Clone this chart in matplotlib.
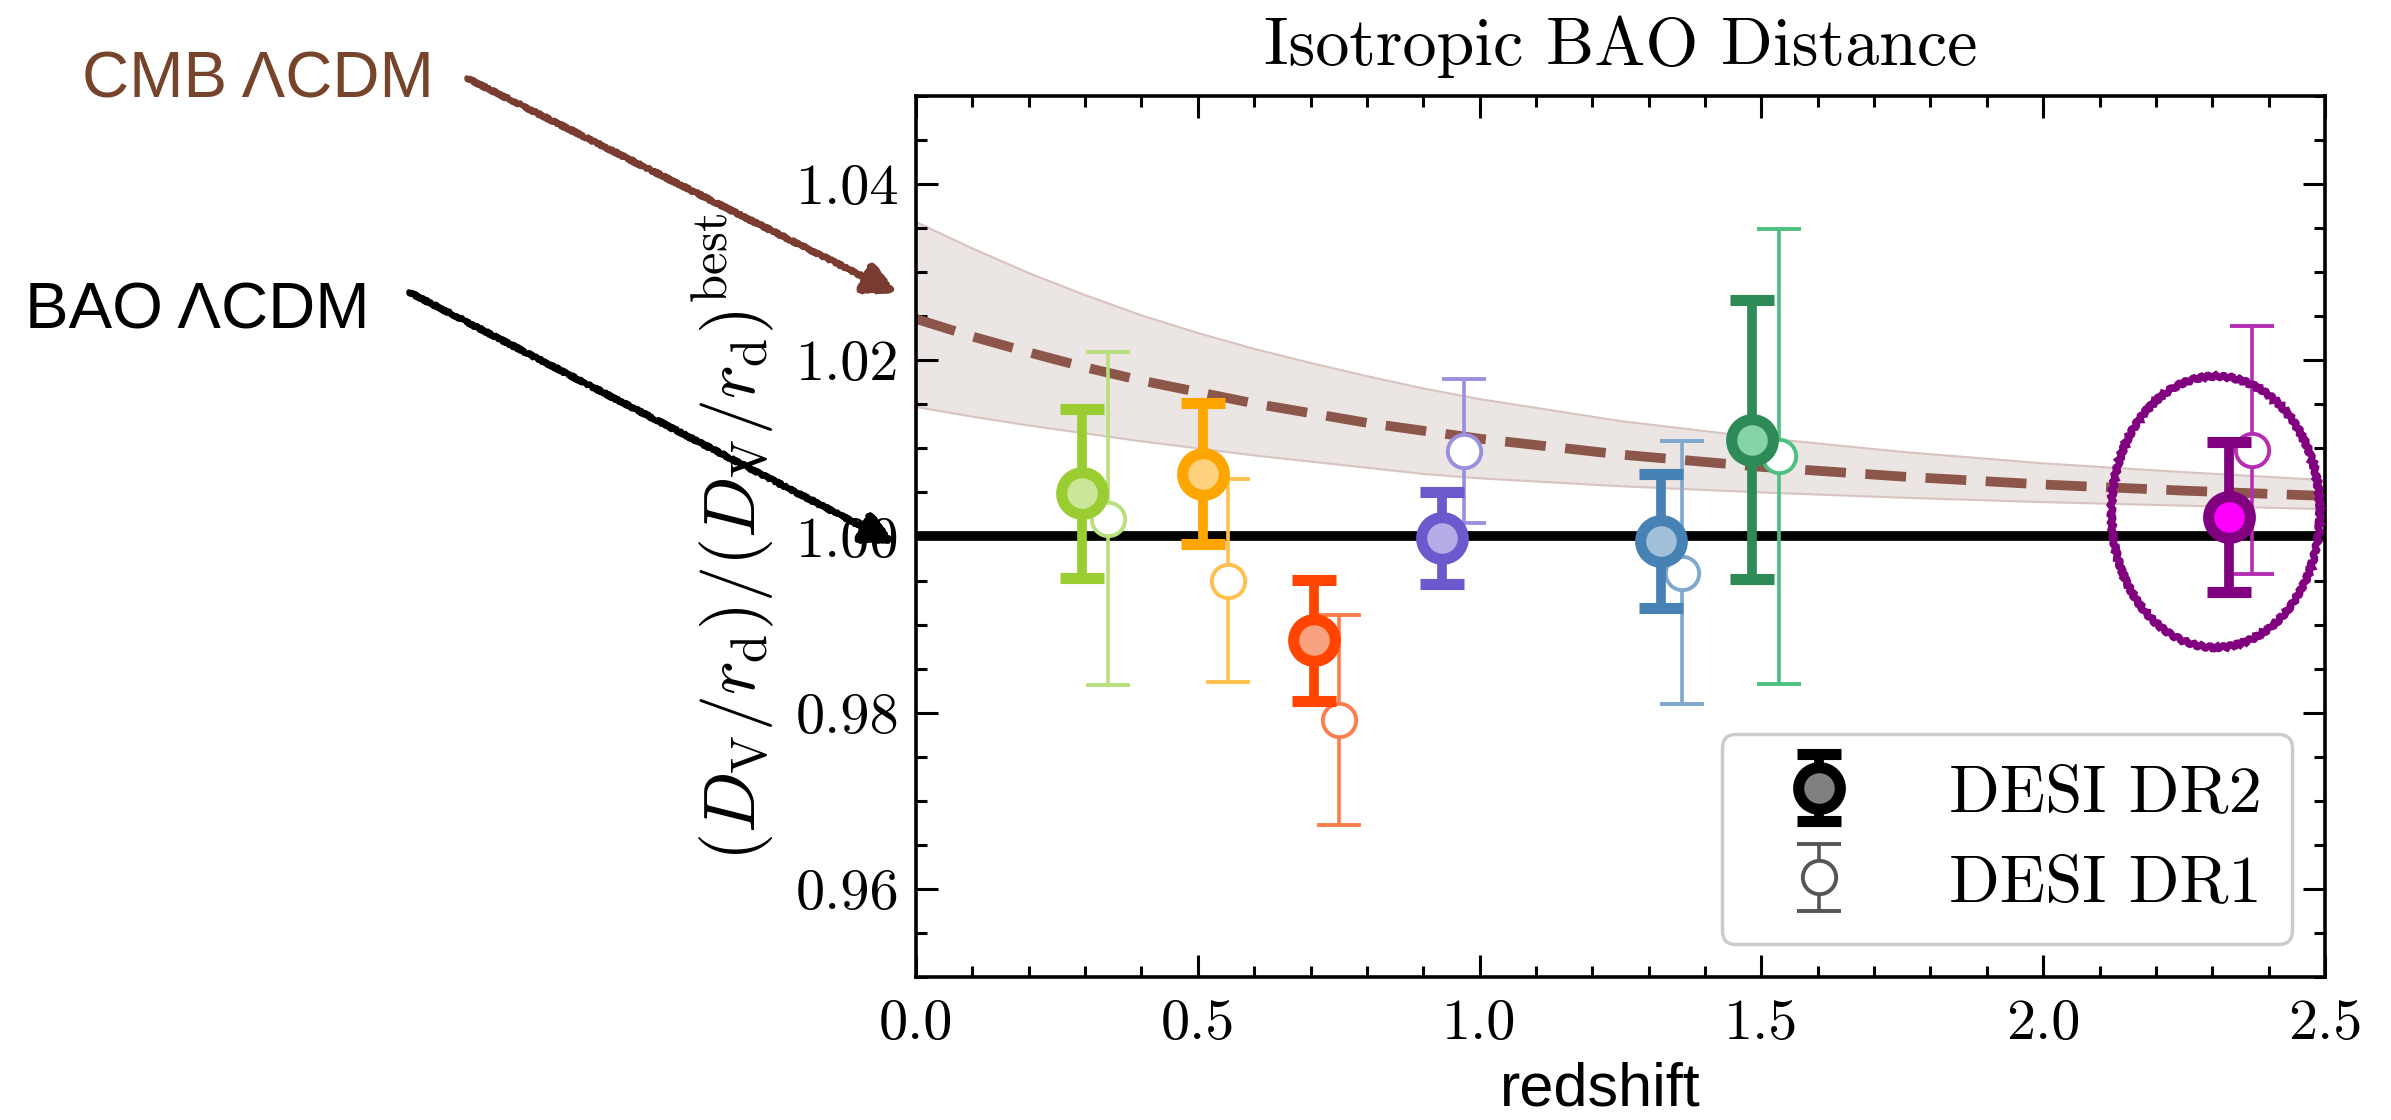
import numpy as np
import matplotlib
matplotlib.use("Agg")
import matplotlib.pyplot as plt
from matplotlib.patches import Ellipse
from matplotlib.ticker import MultipleLocator, FormatStrFormatter

plt.rcParams['font.family'] = 'serif'
plt.rcParams['font.serif'] = ['cmr10']
plt.rcParams['mathtext.fontset'] = 'cm'
plt.rcParams['axes.formatter.use_mathtext'] = True

# DESI DR2 isotropic BAO points
z_dr2 = [0.295, 0.510, 0.706, 0.934, 1.321, 1.484, 2.330]
y_dr2 = [1.0049, 1.0071, 0.9882, 0.9998, 0.9995, 1.0110, 1.0022]
e_dr2 = [0.0096, 0.0080, 0.0069, 0.0052, 0.0076, 0.0158, 0.0085]

# DESI DR1 points (drawn slightly shifted in z)
z_dr1 = [0.340, 0.554, 0.750, 0.973, 1.359, 1.532, 2.370]
y_dr1 = [1.0020, 0.9950, 0.9792, 1.0097, 0.9959, 1.0091, 1.0098]
e_dr1 = [0.0189, 0.0115, 0.0119, 0.0082, 0.0149, 0.0258, 0.0141]

col_dr2 = ['#9acd32', '#ffa500', '#ff4500', '#6a5acd', '#4682b4', '#2e8b57', '#800080']
face_dr2 = ['#cce69a', '#ffd280', '#f9a27f', '#b4ace6', '#a2c0d9', '#86d4a6', '#ff00ff']
col_dr1 = ['#b8e07d', '#ffc04d', '#ff7d4d', '#9a8fdf', '#7ea8cc', '#4cc17f', '#b52db5']

# CMB LCDM prediction and its band
z_cmb = [0.0, 0.1, 0.2, 0.3, 0.4, 0.5, 0.6, 0.7, 0.8, 0.9, 1.0,
         1.25, 1.5, 1.75, 2.0, 2.25, 2.5]
cmb_mid = [1.0247, 1.0227, 1.0209, 1.0192, 1.0177, 1.0164, 1.0151, 1.0140, 1.0129,
           1.0120, 1.0111, 1.0093, 1.0079, 1.0068, 1.0059, 1.0052, 1.0046]
cmb_hi = [1.0357, 1.0327, 1.0299, 1.0274, 1.0251, 1.0231, 1.0213, 1.0197, 1.0182,
          1.0168, 1.0156, 1.0131, 1.0112, 1.0096, 1.0083, 1.0073, 1.0064]
cmb_lo = [1.0147, 1.0136, 1.0126, 1.0117, 1.0108, 1.0100, 1.0092, 1.0085, 1.0078,
          1.0071, 1.0066, 1.0057, 1.0050, 1.0044, 1.0039, 1.0035, 1.0031]

brown = '#8c564b'

fig = plt.figure(figsize=(23.91, 11.20), dpi=100)
ax = fig.add_axes([0.3831, 0.1277, 0.5893, 0.7866])

ax.fill_between(z_cmb, cmb_lo, cmb_hi, facecolor='#ebe5e3', lw=0, zorder=1)
ax.plot(z_cmb, cmb_hi, color='#d9c3c1', lw=1.5, zorder=1)
ax.plot(z_cmb, cmb_lo, color='#d9c3c1', lw=1.5, zorder=1)
ax.axhline(1.0, color='k', lw=7, zorder=2)
ax.plot(z_cmb, cmb_mid, ls=(0, (4.2, 2.0)), color=brown, lw=7, zorder=2.5)

for i in range(len(z_dr1)):
    ax.errorbar(z_dr1[i], y_dr1[i], yerr=e_dr1[i], fmt='o', ms=24, mew=2.8,
                mfc='white', mec=col_dr1[i], ecolor=col_dr1[i],
                elinewidth=2.6, capsize=15.5, capthick=2.6, zorder=3)

for i in range(len(z_dr2)):
    ax.errorbar(z_dr2[i], y_dr2[i], yerr=e_dr2[i], fmt='o', ms=30, mew=8,
                mfc=face_dr2[i], mec=col_dr2[i], ecolor=col_dr2[i],
                elinewidth=7, capsize=15.5, capthick=7, zorder=4)

# legend proxies
h2 = ax.errorbar([np.nan], [np.nan], yerr=[np.nan], fmt='o', ms=30, mew=8,
                 mfc='#808080', mec='k', ecolor='k', elinewidth=7,
                 capsize=15.5, capthick=7)
h1 = ax.errorbar([np.nan], [np.nan], yerr=[np.nan], fmt='o', ms=24, mew=2.8,
                 mfc='white', mec='#555555', ecolor='#555555', elinewidth=2.6,
                 capsize=15.5, capthick=2.6)
leg = ax.legend([h2, h1], ['DESI DR2', 'DESI DR1'], loc='lower right',
                fontsize=48, labelspacing=0.45, handletextpad=0.95,
                borderpad=0.45, framealpha=1.0, edgecolor='#cccccc')
leg.get_frame().set_linewidth(2.5)

# hand-drawn circle around the Lya point
ell = Ellipse((z_dr2[-1] - 0.024, y_dr2[-1] + 0.0006), width=0.37, height=0.0308,
              fill=False, edgecolor='#800080', lw=5, zorder=6, clip_on=False)
ell.set_sketch_params(1.5, 8, 2)
ax.add_patch(ell)

ax.set_xlim(0, 2.5)
ax.set_ylim(0.95, 1.05)
ax.xaxis.set_major_locator(MultipleLocator(0.5))
ax.xaxis.set_minor_locator(MultipleLocator(0.1))
ax.yaxis.set_major_locator(MultipleLocator(0.02))
ax.yaxis.set_minor_locator(MultipleLocator(0.005))
ax.xaxis.set_major_formatter(FormatStrFormatter('%.1f'))
ax.yaxis.set_major_formatter(FormatStrFormatter('%.2f'))
ax.tick_params(which='both', direction='in', top=True, right=True, width=2.2,
               labelsize=42)
ax.tick_params(which='major', length=16)
ax.tick_params(which='minor', length=8)
ax.tick_params(axis='x', pad=16)
ax.tick_params(axis='y', pad=12)
for s in ax.spines.values():
    s.set_linewidth(2.6)

ax.set_title('Isotropic BAO Distance', fontsize=49, pad=22)
ax.set_ylabel(r'$(D_{\rm V}/r_{\rm d})/(D_{\rm V}/r_{\rm d})^{\rm best}$', fontsize=52)
ax.yaxis.set_label_coords(-0.099, 0.5)

# overlay annotations
sans = ['Liberation Sans', 'DejaVu Sans']
fig.text(1600 / 2391, 15 / 1120, 'redshift', ha='center', va='baseline',
         fontsize=44, family=sans)
fig.text(82 / 2391, 1 - 97 / 1120, 'CMB ΛCDM', ha='left', va='baseline',
         fontsize=47, family=sans, color='#76432b')
fig.text(25 / 2391, 1 - 328 / 1120, 'BAO ΛCDM', ha='left', va='baseline',
         fontsize=47, family=sans, color='k')

a1 = ax.annotate('', xy=(896, 1120 - 293), xycoords='figure pixels',
                 xytext=(467, 1120 - 78), textcoords='figure pixels',
                 arrowprops=dict(arrowstyle='-|>', color='#7a3b30', lw=4,
                                 mutation_scale=50, shrinkA=0, shrinkB=0))
a1.arrow_patch.set_sketch_params(1.5, 3, 2)
a2 = ax.annotate('', xy=(894, 1120 - 543), xycoords='figure pixels',
                 xytext=(409, 1120 - 292), textcoords='figure pixels',
                 arrowprops=dict(arrowstyle='-|>', color='k', lw=4,
                                 mutation_scale=50, shrinkA=0, shrinkB=0))
a2.arrow_patch.set_sketch_params(1.5, 3, 2)

fig.savefig('out.png', dpi=100)
